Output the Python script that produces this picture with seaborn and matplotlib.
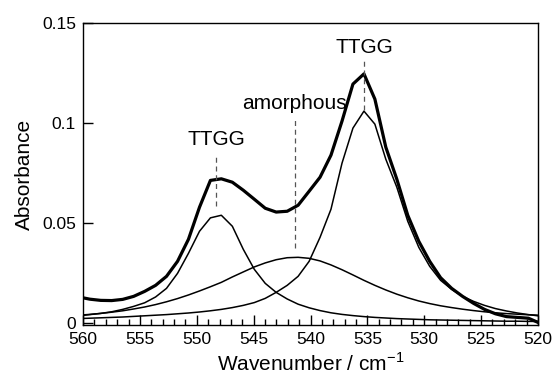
import matplotlib
matplotlib.use("Agg")
import matplotlib.pyplot as plt
import seaborn as sns
import pandas as pd
from matplotlib.ticker import MultipleLocator, FuncFormatter

sns.set_style("ticks")
plt.rcParams['font.family'] = ['Liberation Sans', 'DejaVu Sans']
plt.rcParams['text.color'] = 'black'
plt.rcParams['axes.labelcolor'] = 'black'
plt.rcParams['xtick.color'] = 'black'
plt.rcParams['ytick.color'] = 'black'

wavenumber = [560.37, 559.40, 558.44, 557.48, 556.51, 555.55, 554.58, 553.62, 552.66, 551.69,
              550.73, 549.76, 548.80, 547.84, 546.87, 545.91, 544.94, 543.98, 543.02, 542.05,
              541.09, 540.12, 539.16, 538.20, 537.23, 536.27, 535.30, 534.34, 533.38, 532.41,
              531.45, 530.48, 529.52, 528.56, 527.59, 526.63, 525.66, 524.70, 523.74, 522.77,
              521.81, 520.84, 519.88]

total = [0.0132, 0.0121, 0.0115, 0.0114, 0.0120, 0.0135, 0.0160, 0.0190, 0.0235, 0.0310,
         0.0420, 0.0580, 0.0714, 0.0722, 0.0705, 0.0665, 0.0620, 0.0575, 0.0556, 0.0560,
         0.0590, 0.0660, 0.0730, 0.0840, 0.1010, 0.1195, 0.1246, 0.1120, 0.0880, 0.0720,
         0.0540, 0.0410, 0.0310, 0.0228, 0.0175, 0.0135, 0.0100, 0.0070, 0.0048, 0.0034,
         0.0030, 0.0026, 0.0002]

ttgg_548 = [0.0038, 0.0044, 0.0050, 0.0058, 0.0070, 0.0085, 0.0103, 0.0132, 0.0175, 0.0250,
            0.0350, 0.0460, 0.0527, 0.0540, 0.0485, 0.0370, 0.0270, 0.0200, 0.0155, 0.0122,
            0.0096, 0.0078, 0.0064, 0.0053, 0.0045, 0.0039, 0.0034, 0.0030, 0.0027, 0.0024,
            0.0022, 0.0020, 0.0018, 0.0017, 0.0016, 0.0015, 0.0014, 0.0013, 0.0012, 0.0011,
            0.0011, 0.0010, 0.0010]

amorphous = [0.0041, 0.0045, 0.0050, 0.0056, 0.0063, 0.0072, 0.0082, 0.0094, 0.0108, 0.0124,
             0.0142, 0.0162, 0.0183, 0.0205, 0.0232, 0.0257, 0.0282, 0.0302, 0.0318, 0.0328,
             0.0330, 0.0325, 0.0312, 0.0292, 0.0268, 0.0242, 0.0215, 0.0190, 0.0167, 0.0146,
             0.0128, 0.0112, 0.0099, 0.0088, 0.0079, 0.0071, 0.0064, 0.0058, 0.0053, 0.0049,
             0.0046, 0.0043, 0.0041]

ttgg_535 = [0.0024, 0.0026, 0.0028, 0.0030, 0.0032, 0.0035, 0.0038, 0.0041, 0.0044, 0.0048,
            0.0052, 0.0057, 0.0063, 0.0070, 0.0079, 0.0090, 0.0104, 0.0125, 0.0155, 0.0190,
            0.0235, 0.0310, 0.0430, 0.0570, 0.0800, 0.0975, 0.1060, 0.0995, 0.0820, 0.0680,
            0.0510, 0.0380, 0.0285, 0.0215, 0.0170, 0.0135, 0.0110, 0.0090, 0.0074, 0.0062,
            0.0052, 0.0044, 0.0037]

labels = ["TTGG", "amorphous", "TTGG"]
label_wn = [548.3, 541.4, 535.3]
label_y = [0.0918, 0.110, 0.138]
dash_top = [0.0843, 0.1026, 0.131]
dash_bottom = [0.0584, 0.0376, 0.1067]

df = pd.DataFrame({"wn": wavenumber, "total": total, "ttgg548": ttgg_548,
                   "amorphous": amorphous, "ttgg535": ttgg_535})

fig = plt.figure(figsize=(5.52, 3.77), dpi=100)
ax = fig.add_axes([0.1504, 0.1379, 0.8242, 0.8011])

for col in ["ttgg548", "amorphous", "ttgg535"]:
    sns.lineplot(data=df, x="wn", y=col, ax=ax, color="black", linewidth=1.1)
sns.lineplot(data=df, x="wn", y="total", ax=ax, color="black", linewidth=2.3)

for wn, yt, yb in zip(label_wn, dash_top, dash_bottom):
    ax.plot([wn, wn], [yb, yt], color="#555555", linewidth=0.9, linestyle=(0, (4, 3)))
for txt, wn, yy in zip(labels, label_wn, label_y):
    ax.text(wn, yy, txt, ha="center", va="center", fontsize=15, color="black")

ax.set_xlim(560, 520)
ax.set_ylim(-0.0008, 0.15)
ax.xaxis.set_major_locator(MultipleLocator(5))
ax.xaxis.set_minor_locator(MultipleLocator(1))
ax.yaxis.set_major_locator(MultipleLocator(0.05))
ax.yaxis.set_major_formatter(FuncFormatter(lambda v, p: "0" if abs(v) < 1e-9 else f"{v:g}"))
ax.xaxis.set_major_formatter(FuncFormatter(lambda v, p: f"{v:.0f}"))
ax.tick_params(axis="both", which="major", direction="in", length=7, width=1, labelsize=12.5,
               pad=5, colors="black")
ax.tick_params(axis="x", which="minor", direction="in", length=4, width=1, colors="black")
for s in ax.spines.values():
    s.set_visible(True)
    s.set_linewidth(1.0)
    s.set_color("black")
ax.set_xlabel("Wavenumber / cm$^{\\mathregular{-1}}$", fontsize=15, labelpad=4, color="black")
ax.set_ylabel("Absorbance", fontsize=15, labelpad=6, color="black")

fig.savefig("out.png", dpi=100)
